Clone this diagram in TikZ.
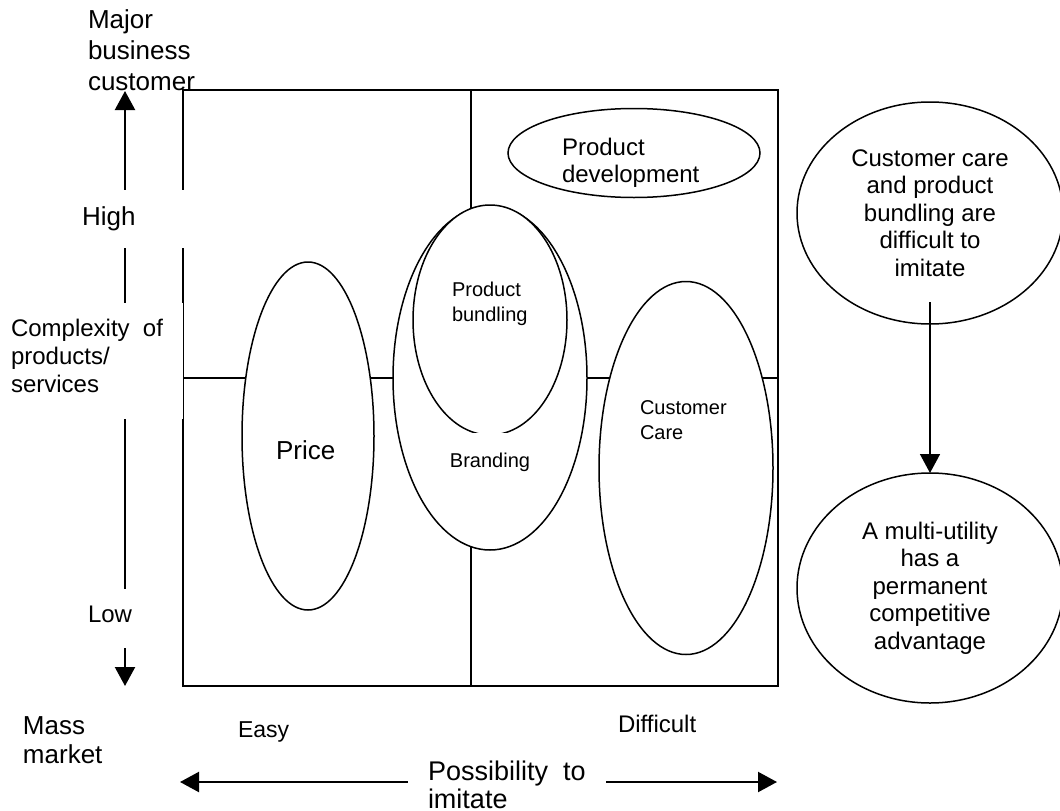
\documentclass[tikz,border=0pt]{standalone}
\usepackage{fontspec}
\setmainfont{Liberation Sans}
\usetikzlibrary{shapes.geometric,arrows.meta}
\definecolor{dialinecolor}{rgb}{0.000000, 0.000000, 0.000000}
\definecolor{diafillcolor}{rgb}{1.000000, 1.000000, 1.000000}
\newlength{\du}
\setlength{\du}{1pt}

\begin{document}
\begin{tikzpicture}[
  blob/.style={ellipse,draw=dialinecolor,fill=diafillcolor,line width=1.5\du,inner sep=0pt,outer sep=0pt},
  txt/.style={inner sep=0pt,outer sep=0pt,color=dialinecolor},
  mask/.style={fill=diafillcolor},
  tip/.style={-{Triangle[length=19pt,width=20pt]}},
  axis/.style={line width=2.2\du,{Triangle[length=19pt,width=20pt]}-{Triangle[length=19pt,width=20pt]}}
]
\pgftransformxscale{1.000000}
\pgftransformyscale{-1.000000}
\useasboundingbox (0\du,0\du) rectangle (1060\du,811\du);
% quadrants
\pgfsetlinewidth{1.300000\du}
\draw[dialinecolor] (183\du,90\du) rectangle (778\du,686\du);
\draw[dialinecolor] (471\du,90\du)--(471\du,686\du);
\draw[dialinecolor] (183\du,378\du)--(778\du,378\du);
% axes
\coordinate (yhi) at (125\du,91\du);
\coordinate (ylo) at (125\du,686\du);
\coordinate (xlo) at (180\du,782\du);
\coordinate (xhi) at (777\du,782\du);
\draw[axis,dialinecolor] (yhi)--(ylo);
\draw[axis,dialinecolor] (xlo)--(xhi);
% text boxes over the axes
\fill[mask] (78\du,190\du) rectangle (185\du,248\du);
\fill[mask] (5\du,303\du) rectangle (183\du,419\du);
\fill[mask] (80\du,589\du) rectangle (135\du,648\du);
\fill[mask] (408\du,755\du) rectangle (606\du,811\du);
% setfont left to latex
\node[txt,anchor=north west,align=left,font=\fontsize{26}{31}\selectfont] (major) at (88\du,9.5\du){Major\\business\\customer};
\node[txt,anchor=base west,font=\fontsize{26}{31}\selectfont] (high) at (82\du,225\du){High};
\node[txt,anchor=north west,align=left,font=\fontsize{24}{28}\selectfont] (cplx) at (11\du,319.5\du){Complexity\ \ of\\products/\\services};
\node[txt,anchor=base west,font=\fontsize{24}{28}\selectfont] (low) at (88\du,622\du){Low};
\node[txt,anchor=north west,align=left,font=\fontsize{26}{29}\selectfont] (mass) at (23\du,716.5\du){Mass\\market};
\node[txt,anchor=base west,font=\fontsize{23}{28}\selectfont] (easy) at (238\du,737\du){Easy};
\node[txt,anchor=base west,font=\fontsize{24}{28}\selectfont] (diff) at (618\du,732\du){Difficult};
\node[txt,anchor=north west,align=left,font=\fontsize{27}{28}\selectfont] (imit) at (428\du,760.5\du){Possibility\ \ to\\imitate};
% strategies
\node[blob,minimum width=132\du,minimum height=348\du] (price) at (308\du,436\du){};
\node[blob,minimum width=194\du,minimum height=344\du] (brand) at (490\du,378\du){};
\node[blob,minimum width=154\du,minimum height=230\du] (bundle) at (490\du,320\du){};
\node[blob,minimum width=252\du,minimum height=89\du] (devel) at (634\du,153\du){};
\node[blob,minimum width=174\du,minimum height=373\du] (care) at (686\du,468\du){};
\node[txt,anchor=base west,font=\fontsize{26}{30}\selectfont] (pricetxt) at (276\du,459\du){Price};
\node[txt,anchor=base,fill=diafillcolor,inner xsep=2\du,text height=34\du,font=\fontsize{20}{25}\selectfont] (brandtxt) at (490\du,467\du){Branding};
\node[txt,anchor=north west,align=left,font=\fontsize{20}{25}\selectfont] (bundletxt) at (452\du,282.5\du){Product\\bundling};
\node[txt,anchor=north west,align=left,font=\fontsize{24}{27}\selectfont] (develtxt) at (562\du,138\du){Product\\development};
\node[txt,anchor=north west,align=left,font=\fontsize{20}{25}\selectfont] (caretxt) at (640\du,400.5\du){Customer\\Care};
% conclusion
\node[blob,minimum width=266\du,minimum height=222\du,align=center,font=\fontsize{24}{27.5}\selectfont] (hard) at (930\du,213\du){Customer care\\and product\\bundling are\\difficult to\\imitate};
\node[blob,minimum width=266\du,minimum height=230\du,align=center,font=\fontsize{24}{27.5}\selectfont] (perm) at (930\du,588\du){A multi-utility\\has a\\permanent\\competitive\\advantage};
\coordinate (hardtail) at (930\du,302\du);
\draw[tip,line width=1.5\du,dialinecolor] (hardtail)--(perm.north);
\end{tikzpicture}
\end{document}
